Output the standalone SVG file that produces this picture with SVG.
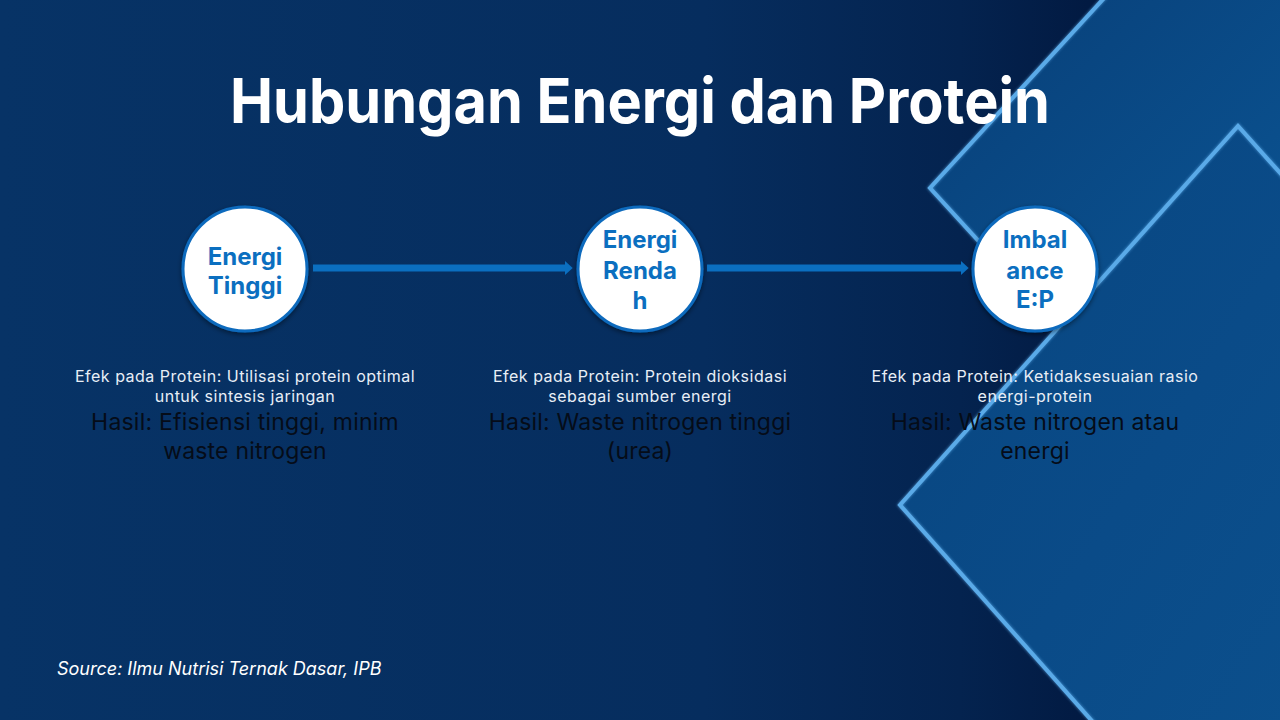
<svg xmlns="http://www.w3.org/2000/svg" width="1280" height="720" viewBox="0 0 1280 720">
<defs>
<linearGradient id="bg" x1="0" y1="0" x2="1" y2="0">
<stop offset="0" stop-color="#073366"/>
<stop offset="0.55" stop-color="#062d5e"/>
<stop offset="0.75" stop-color="#04234f"/>
<stop offset="0.85" stop-color="#021a42"/>
<stop offset="1" stop-color="#02183f"/>
</linearGradient>
<linearGradient id="d1" x1="0" y1="0" x2="1" y2="1">
<stop offset="0" stop-color="#083f78"/>
<stop offset="1" stop-color="#0b5594"/>
</linearGradient>
<linearGradient id="d2" x1="0" y1="0" x2="1" y2="1">
<stop offset="0" stop-color="#08457f"/>
<stop offset="0.6" stop-color="#0a4b88"/>
<stop offset="1" stop-color="#0b4f8c"/>
</linearGradient>
<filter id="glow" x="-10%" y="-10%" width="120%" height="120%">
<feGaussianBlur stdDeviation="1.5"/>
</filter>
<filter id="shadow" x="-20%" y="-20%" width="140%" height="140%">
<feDropShadow dx="0" dy="2" stdDeviation="2.5" flood-color="#000" flood-opacity="0.45"/>
</filter>
<marker id="arrow" markerWidth="1.2" markerHeight="2" refX="0" refY="1" orient="auto" markerUnits="strokeWidth" overflow="visible">
<path d="M0,0 L1.1,1 L0,2 z" fill="#0b6fc0"/>
</marker>
<style>
.node circle{fill:#ffffff;stroke:#0f6bbd;stroke-width:3;}
.nt{font-family:Inter,"Open Sans","Liberation Sans",sans-serif;font-weight:700;font-size:24px;fill:#0b6fc0;text-anchor:middle;}
.efek{font-family:Inter,"Open Sans","Liberation Sans",sans-serif;font-size:16px;letter-spacing:0.5px;fill:#e8eef6;text-anchor:middle;}
.hasil{font-family:Inter,"Open Sans","Liberation Sans",sans-serif;font-size:23px;letter-spacing:0.2px;fill:#050c18;text-anchor:middle;}
.edge{stroke:#5aaae8;stroke-width:4;fill:none;}
.conn line{stroke:#0b6fc0;stroke-width:7;}
</style>
</defs>
<rect x="0" y="0" width="1280" height="720" fill="url(#bg)"/>
<g id="decor">
<polygon points="930,188 1106,-4 1290,-4 1290,340 1058,328" fill="url(#d1)"/>
<polyline class="edge" points="1106,-4 930,188 1060,330" filter="url(#glow)" opacity="0.8"/>
<polyline class="edge" points="1106,-4 930,188 1060,330" stroke-width="2.5"/>
<polygon points="900,505 1238,126 1290,184 1290,730 1100,730" fill="url(#d2)"/>
<polyline class="edge" points="1100,730 900,505 1238,126 1290,184" filter="url(#glow)" opacity="0.8"/>
<polyline class="edge" points="1100,730 900,505 1238,126 1290,184" stroke-width="2.5"/>
</g>
<text x="640" y="123" font-family="Inter,'Open Sans','Liberation Sans',sans-serif" font-weight="700" font-size="62" fill="#ffffff" text-anchor="middle" textLength="820" lengthAdjust="spacingAndGlyphs">Hubungan Energi dan Protein</text>
<g id="connectors" class="conn">
<line x1="313" y1="268" x2="565" y2="268" marker-end="url(#arrow)"/>
<line x1="707" y1="268" x2="961" y2="268" marker-end="url(#arrow)"/>
</g>
<g id="node1" class="node">
<circle cx="245" cy="269" r="62" filter="url(#shadow)"/>
<text class="nt" x="245" y="265">Energi</text>
<text class="nt" x="245" y="294">Tinggi</text>
</g>
<g id="node2" class="node">
<circle cx="640" cy="269" r="62" filter="url(#shadow)"/>
<text class="nt" x="640" y="248">Energi</text>
<text class="nt" x="640" y="279">Renda</text>
<text class="nt" x="640" y="309">h</text>
</g>
<g id="node3" class="node">
<circle cx="1035" cy="269" r="62" filter="url(#shadow)"/>
<text class="nt" x="1035" y="248">Imbal</text>
<text class="nt" x="1035" y="279">ance</text>
<text class="nt" x="1035" y="308">E:P</text>
</g>
<g id="desc1">
<text class="efek" x="245" y="382">Efek pada Protein: Utilisasi protein optimal</text>
<text class="efek" x="245" y="402">untuk sintesis jaringan</text>
<text class="hasil" x="245" y="430">Hasil: Efisiensi tinggi, minim</text>
<text class="hasil" x="245" y="459">waste nitrogen</text>
</g>
<g id="desc2">
<text class="efek" x="640" y="382">Efek pada Protein: Protein dioksidasi</text>
<text class="efek" x="640" y="402">sebagai sumber energi</text>
<text class="hasil" x="640" y="430">Hasil: Waste nitrogen tinggi</text>
<text class="hasil" x="640" y="459">(urea)</text>
</g>
<g id="desc3">
<text class="efek" x="1035" y="382">Efek pada Protein: Ketidaksesuaian rasio</text>
<text class="efek" x="1035" y="402">energi-protein</text>
<text class="hasil" x="1035" y="430">Hasil: Waste nitrogen atau</text>
<text class="hasil" x="1035" y="459">energi</text>
</g>
<text x="57" y="675" font-family="Inter,'Open Sans','Liberation Sans',sans-serif" font-style="italic" font-size="18" fill="#ffffff">Source: Ilmu Nutrisi Ternak Dasar, IPB</text>
</svg>
